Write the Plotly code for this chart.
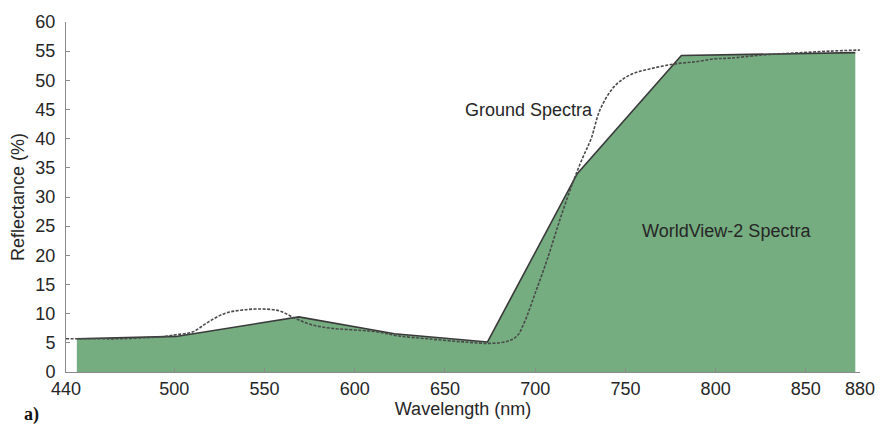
import plotly.graph_objects as go

# WorldView-2 band reflectance (vertices of the filled profile)
wv2_wavelength = [446, 501, 569, 622, 673.6, 723.3, 781, 877.4]
wv2_reflectance = [5.7, 6.1, 9.45, 6.55, 5.15, 34.0, 54.25, 54.75]

# Field spectroradiometer (ground) spectrum
ground_wavelength = [440, 455, 470, 485, 495, 501, 510, 519, 528, 537, 547, 558,
                     567, 576, 587, 600, 612, 624, 642, 661, 675, 685, 690, 694,
                     700, 707, 714, 721, 726, 731, 736, 744, 753, 764, 777, 789,
                     800, 808, 826, 845, 863, 880]
ground_reflectance = [5.7, 5.7, 5.7, 5.9, 6.1, 6.4, 6.85, 8.6, 10.05, 10.6, 10.8, 10.5,
                      9.2, 8.1, 7.5, 7.2, 6.9, 6.2, 5.65, 5.15, 4.9, 5.3, 6.2, 8.5,
                      13.5, 19.6, 26.4, 32.6, 36.5, 40.0, 45.0, 49.0, 51.0, 52.0, 52.8, 53.2,
                      53.7, 53.8, 54.35, 54.7, 55.0, 55.2]

x_ticks = [440, 500, 550, 600, 650, 700, 750, 800, 850, 880]

text_color = "#262626"
axis_color = "#8a8a8a"
font_family = "Liberation Sans, Arial, sans-serif"

fig = go.Figure()

fig.add_trace(go.Scatter(
    x=wv2_wavelength, y=wv2_reflectance,
    mode="lines", fill="tozeroy",
    fillcolor="rgb(117,173,128)",
    line=dict(color="#3a3a3a", width=1.6),
    showlegend=False, hoverinfo="skip",
))

fig.add_trace(go.Scatter(
    x=ground_wavelength, y=ground_reflectance,
    mode="lines", line_shape="spline",
    line=dict(color="#4a4a4a", width=1.6, dash="3px,1.5px"),
    showlegend=False, hoverinfo="skip",
))

fig.add_annotation(x=696.8, y=45.0, xref="x", yref="y", text="Ground Spectra",
                   showarrow=False, font=dict(size=18, color=text_color, family=font_family))
fig.add_annotation(x=806.2, y=24.2, xref="x", yref="y", text="WorldView-2 Spectra",
                   showarrow=False, font=dict(size=18, color=text_color, family=font_family))
fig.add_annotation(x=-0.055, y=-0.158, xref="paper", yref="paper", text="<b>a)</b>",
                   xanchor="left", yanchor="bottom", showarrow=False,
                   font=dict(size=18, color="#111", family="Liberation Serif, Times New Roman, serif"))

fig.update_xaxes(
    range=[440, 880], tickvals=x_ticks, ticktext=[str(v) for v in x_ticks],
    showline=True, linecolor=axis_color, linewidth=1,
    ticks="inside", ticklen=4, tickcolor=axis_color,
    showgrid=False, zeroline=False,
    tickfont=dict(size=18, color=text_color, family=font_family),
    title=dict(text="Wavelength (nm)", standoff=4,
               font=dict(size=18, color=text_color, family=font_family)),
)
fig.update_yaxes(
    range=[0, 60], dtick=5,
    showline=True, linecolor=axis_color, linewidth=1,
    ticks="inside", ticklen=4, tickcolor=axis_color,
    showgrid=False, zeroline=False, ticklabelstandoff=6,
    tickfont=dict(size=18, color=text_color, family=font_family),
    title=dict(text="Reflectance (%)", standoff=6,
               font=dict(size=18, color=text_color, family=font_family)),
)

fig.update_layout(
    width=887, height=427,
    margin=dict(l=66, r=25, t=18, b=54),
    plot_bgcolor="white", paper_bgcolor="white",
)

fig.write_html("out.html")
